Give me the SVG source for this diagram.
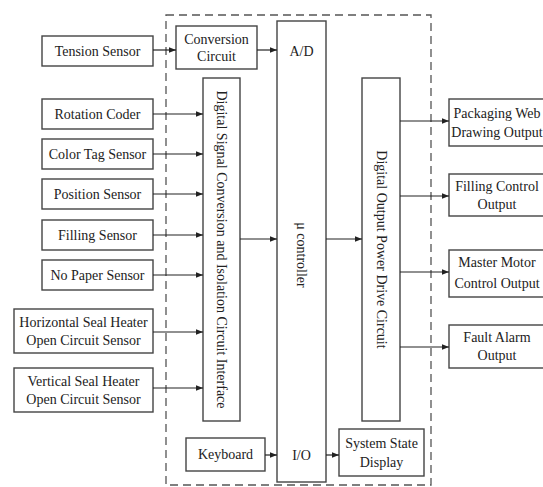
<svg xmlns="http://www.w3.org/2000/svg" width="543" height="487" viewBox="0 0 543 487">
<style>
.b{fill:#fff;stroke:#444;stroke-width:1.4}
.t{font-family:'Liberation Serif','Times New Roman','DejaVu Serif',serif;font-size:14px;fill:#222;text-anchor:middle}
.c{stroke:#222;stroke-width:1.2;fill:none;marker-end:url(#a)}
</style>
<defs>
<marker id="a" viewBox="0 0 10 10" refX="10" refY="5" markerWidth="7" markerHeight="7" markerUnits="userSpaceOnUse" orient="auto">
<path d="M0,1 L10,5 L0,9 z" fill="#222"/>
</marker>
</defs>
<rect width="543" height="487" fill="#fff"/>
<rect id="boundary" x="166" y="15" width="265" height="470" fill="none" stroke="#555" stroke-width="1.3" stroke-dasharray="8,5"/>

<g id="tension"><rect class="b" x="42" y="36" width="111" height="30"/><text class="t" x="97.5" y="55.5">Tension Sensor</text></g>
<g id="conversion"><rect class="b" x="176" y="26" width="81" height="43"/><text class="t" x="216.5" y="44">Conversion</text><text class="t" x="216.5" y="61">Circuit</text></g>
<g id="rotation"><rect class="b" x="42" y="99" width="111" height="30"/><text class="t" x="97.5" y="118.5">Rotation Coder</text></g>
<g id="colortag"><rect class="b" x="42" y="139" width="111" height="30"/><text class="t" x="97.5" y="158.5">Color Tag Sensor</text></g>
<g id="position"><rect class="b" x="42" y="179" width="111" height="30"/><text class="t" x="97.5" y="198.5">Position Sensor</text></g>
<g id="filling"><rect class="b" x="42" y="220" width="111" height="30"/><text class="t" x="97.5" y="239.5">Filling Sensor</text></g>
<g id="nopaper"><rect class="b" x="42" y="260" width="111" height="30"/><text class="t" x="97.5" y="279.5">No Paper Sensor</text></g>
<g id="hseal"><rect class="b" x="14" y="309" width="139" height="44"/><text class="t" x="83.5" y="327">Horizontal Seal Heater</text><text class="t" x="83.5" y="345">Open Circuit Sensor</text></g>
<g id="vseal"><rect class="b" x="14" y="368" width="139" height="44"/><text class="t" x="83.5" y="386">Vertical Seal Heater</text><text class="t" x="83.5" y="404">Open Circuit Sensor</text></g>

<g id="dsci"><rect class="b" x="203" y="78" width="37" height="343"/><text class="t" transform="translate(217,249.5) rotate(90)">Digital Signal Conversion and Isolation Circuit Interface</text></g>
<g id="controller"><rect class="b" x="277" y="21" width="49" height="461"/><text class="t" x="301.5" y="56">A/D</text><text class="t" transform="translate(297,255) rotate(90)">μ controller</text><text class="t" x="301.5" y="460">I/O</text></g>
<g id="dopdc"><rect class="b" x="362" y="78" width="38" height="343"/><text class="t" transform="translate(377,249.5) rotate(90)">Digital Output Power Drive Circuit</text></g>

<g id="keyboard"><rect class="b" x="186" y="438" width="79" height="33"/><text class="t" x="225.5" y="459">Keyboard</text></g>
<g id="display"><rect class="b" x="339" y="429" width="85" height="47"/><text class="t" x="381.5" y="448">System State</text><text class="t" x="381.5" y="467">Display</text></g>

<g id="out1"><rect class="b" x="449" y="99" width="110" height="47"/><text class="t" x="497" y="118">Packaging Web</text><text class="t" x="497" y="137">Drawing Output</text></g>
<g id="out2"><rect class="b" x="449" y="174" width="110" height="42"/><text class="t" x="497" y="191">Filling Control</text><text class="t" x="497" y="209">Output</text></g>
<g id="out3"><rect class="b" x="449" y="250" width="110" height="47"/><text class="t" x="497" y="267">Master Motor</text><text class="t" x="497" y="288">Control Output</text></g>
<g id="out4"><rect class="b" x="449" y="325" width="110" height="43"/><text class="t" x="497" y="342">Fault Alarm</text><text class="t" x="497" y="360">Output</text></g>

<g id="connectors">
<path class="c" d="M153,50 H176"/>
<path class="c" d="M257,50 H277"/>
<path class="c" d="M153,114 H203"/>
<path class="c" d="M153,154 H203"/>
<path class="c" d="M153,194 H203"/>
<path class="c" d="M153,235 H203"/>
<path class="c" d="M153,275 H203"/>
<path class="c" d="M153,332 H203"/>
<path class="c" d="M153,388 H203"/>
<path class="c" d="M240,239 H277"/>
<path class="c" d="M326,239 H362"/>
<path class="c" d="M400,121 H449"/>
<path class="c" d="M400,196 H449"/>
<path class="c" d="M400,272 H449"/>
<path class="c" d="M400,347 H449"/>
<path class="c" d="M265,455 H277"/>
<path class="c" d="M326,455 H339"/>
</g>
</svg>
